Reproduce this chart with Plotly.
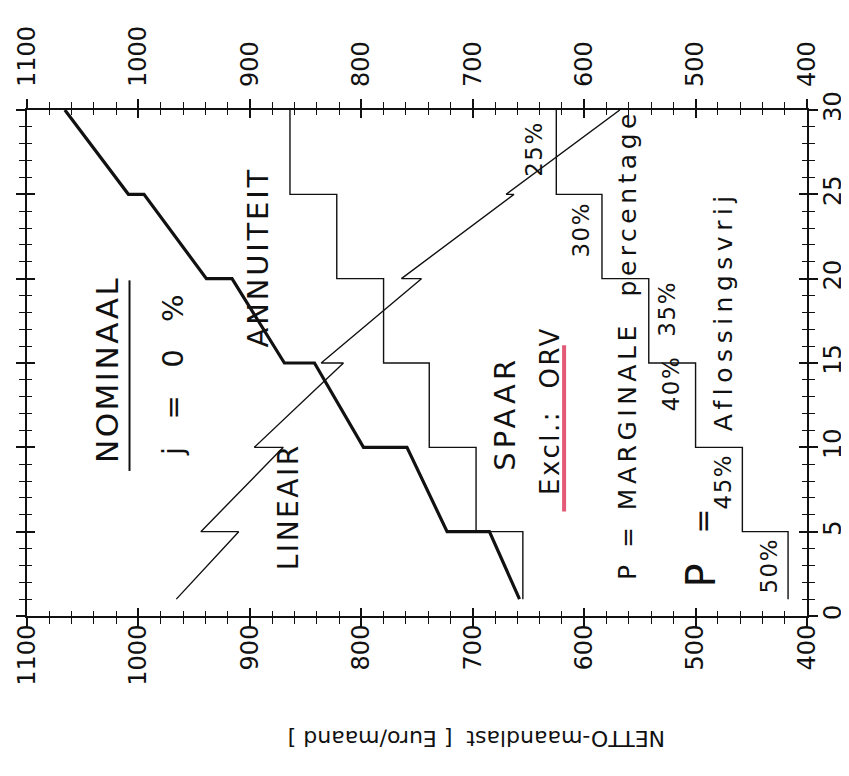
import plotly.graph_objects as go

# ---------------- data ----------------
years_step = [1, 5, 10, 15, 20, 25, 30]
spaar = [655, 697, 739, 780, 822, 864, 864]
aflossingsvrij = [417, 458, 500, 542, 584, 625, 625]

years_saw = [1, 5, 5, 10, 10, 15, 15, 20, 20, 25, 25, 30]
annuiteit = [658, 685, 723, 759, 798, 842, 869, 916, 939, 995, 1009, 1066]
lineair = [966, 910, 944, 870, 896, 816, 836, 746, 764, 663, 670, 568]

x_tick_vals = [1100, 1000, 900, 800, 700, 600, 500, 400]
y_tick_vals = [0, 5, 10, 15, 20, 25, 30]

pct_labels = ["50%", "45%", "40%", "35%", "30%", "25%"]

# ---------------- styles / label positions ----------------
FONT = "DejaVu Sans"
BLACK = "#111111"

pct_pos = [(434, 3.0), (475, 8.0), (522, 13.8), (526, 18.2), (603, 22.9), (645, 27.7)]

# text, x, y, size, letter spacing (px)
texts = [
    ("NOMINAAL", 1028, 14.6, 31, 2.5),
    ("j  =  0  %", 969, 14.4, 29, 3),
    ("ANNUITEIT", 893, 21.3, 29, 2.8),
    ("LINEAIR", 865, 6.5, 28, 2.5),
    ("SPAAR", 671, 12.0, 29, 4),
    ("Excl.:  ORV", 630, 12.2, 26, 2.5),
    ("P = MARGINALE  percentage", 561, 16.1, 25, 4.5),
    ("P", 496, 2.4, 40, 0),
    ("=", 494, 5.6, 30, 0),
    ("Aflossingsvrij", 475, 18.1, 25, 5.5),
]


def spaced(t, ls):
    if ls <= 0:
        return t
    return '<span style="letter-spacing:%.1fpx">%s</span>' % (ls, t)


fig = go.Figure()

fig.add_trace(go.Scatter(x=spaar, y=years_step, mode="lines", line_shape="vh",
                         line=dict(color=BLACK, width=1.4), showlegend=False, hoverinfo="skip"))
fig.add_trace(go.Scatter(x=aflossingsvrij, y=years_step, mode="lines", line_shape="vh",
                         line=dict(color=BLACK, width=1.4), showlegend=False, hoverinfo="skip"))
fig.add_trace(go.Scatter(x=lineair, y=years_saw, mode="lines",
                         line=dict(color=BLACK, width=1.4), showlegend=False, hoverinfo="skip"))
fig.add_trace(go.Scatter(x=annuiteit, y=years_saw, mode="lines",
                         line=dict(color=BLACK, width=3.2), showlegend=False, hoverinfo="skip"))
# dummy trace for the overlay axes (inner tick halves + top labels)
fig.add_trace(go.Scatter(x=[None], y=[None], xaxis="x2", yaxis="y2", showlegend=False, hoverinfo="skip"))

for t, x, y, s, ls in texts:
    fig.add_annotation(text=spaced(t, ls), x=x, y=y, xref="x", yref="y", showarrow=False, textangle=-90,
                       font=dict(family=FONT, size=s, color=BLACK))
for t, (x, y) in zip(pct_labels, pct_pos):
    fig.add_annotation(text=spaced(t, 1.5), x=x, y=y, xref="x", yref="y", showarrow=False, textangle=-90,
                       font=dict(family=FONT, size=23, color=BLACK))

# axis title (upside down)
fig.add_annotation(text="NETTO-maandlast  [ Euro/maand ]", x=0.577, y=-0.272, xref="paper", yref="paper",
                   showarrow=False, textangle=180, font=dict(family=FONT, size=22, color=BLACK))

# underline NOMINAAL and red underline Excl.: ORV
fig.add_shape(type="line", xref="x", yref="y", x0=1008, x1=1008, y0=8.6, y1=19.9,
              line=dict(color=BLACK, width=2))
fig.add_shape(type="line", xref="x", yref="y", x0=618, x1=618, y0=6.2, y1=16.05,
              line=dict(color="rgba(222,60,95,0.85)", width=4))

tickfont = dict(family=FONT, size=24, color=BLACK)
common_x = dict(range=[1100, 400], tickvals=x_tick_vals, tickangle=-90, showgrid=False,
                zeroline=False, tickfont=tickfont, tickcolor=BLACK, automargin=False)
common_y = dict(range=[0, 30], tickvals=y_tick_vals, tickangle=-90, showgrid=False,
                zeroline=False, tickfont=tickfont, tickcolor=BLACK, automargin=False)

fig.update_layout(
    width=849, height=776, autosize=False,
    margin=dict(l=19, r=50, t=102, b=168, pad=0, autoexpand=False),
    paper_bgcolor="white", plot_bgcolor="white",
    font=dict(family=FONT, color=BLACK),
    xaxis=dict(**common_x, side="bottom", ticks="outside", ticklen=9, tickwidth=1.6,
               showline=True, linecolor=BLACK, linewidth=2, mirror="allticks",
               minor=dict(dtick=20, tick0=400, ticks="outside", ticklen=6, tickwidth=1.4, tickcolor=BLACK),
               ticklabelstandoff=-12),
    xaxis2=dict(**common_x, overlaying="x", matches="x", side="top", anchor="y", ticks="inside",
                ticklen=8, tickwidth=1.6, mirror="allticks", showline=False,
                minor=dict(dtick=20, tick0=400, ticks="inside", ticklen=5, tickwidth=1.4, tickcolor=BLACK),
                ticklabelstandoff=22),
    yaxis=dict(**common_y, side="right", ticks="outside", ticklen=9, tickwidth=1.6,
               showline=True, linecolor=BLACK, linewidth=2, mirror="allticks",
               minor=dict(dtick=1, tick0=0, ticks="outside", ticklen=6, tickwidth=1.4, tickcolor=BLACK),
               ticklabelstandoff=-6),
    yaxis2=dict(**common_y, overlaying="y", matches="y", side="right", anchor="x", ticks="inside",
                ticklen=8, tickwidth=1.6, mirror="allticks", showticklabels=False, showline=False,
                minor=dict(dtick=1, tick0=0, ticks="inside", ticklen=5, tickwidth=1.4, tickcolor=BLACK)),
)

fig.write_html("out.html", config={"displayModeBar": False})
